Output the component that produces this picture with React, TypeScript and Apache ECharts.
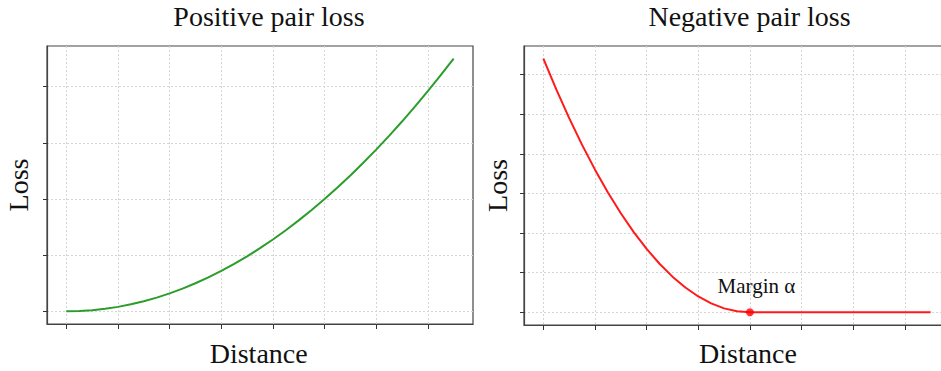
import React, { useEffect, useRef } from "react";
import * as echarts from "echarts";

const distance = [
  0, 0.05, 0.1, 0.15, 0.2, 0.25, 0.3, 0.35, 0.4, 0.45, 0.5, 0.55, 0.6, 0.65, 0.7, 0.75,
  0.8, 0.85, 0.9, 0.95, 1.0, 1.05, 1.1, 1.15, 1.2, 1.25, 1.3, 1.35, 1.4, 1.45, 1.5,
];
const positiveLoss = [
  0, 0.0025, 0.01, 0.0225, 0.04, 0.0625, 0.09, 0.1225, 0.16, 0.2025, 0.25, 0.3025, 0.36,
  0.4225, 0.49, 0.5625, 0.64, 0.7225, 0.81, 0.9025, 1.0, 1.1025, 1.21, 1.3225, 1.44,
  1.5625, 1.69, 1.8225, 1.96, 2.1025, 2.25,
];
const negativeLoss = [
  0.64, 0.5625, 0.49, 0.4225, 0.36, 0.3025, 0.25, 0.2025, 0.16, 0.1225, 0.09, 0.0625,
  0.04, 0.0225, 0.01, 0.0025, 0, 0, 0, 0, 0, 0, 0, 0, 0, 0, 0, 0, 0, 0, 0,
];
const marginPoint = [0.8, 0];
const marginLabel = "Margin α";
const xTicks = [0, 0.2, 0.4, 0.6, 0.8, 1.0, 1.2, 1.4];
const posYTicks = [0, 0.5, 1, 1.5, 2];
const negYTicks = [0, 0.1, 0.2, 0.3, 0.4, 0.5, 0.6];
const titles = ["Positive pair loss", "Negative pair loss"];
const xLabel = "Distance";
const yLabel = "Loss";

const FONT = "Liberation Serif";
const GRID_COLOR = "#d6d6d6";
const FRAME_COLOR = "#444";

function xAxis(gridIndex: number) {
  return {
    type: "value",
    gridIndex,
    min: -0.075,
    max: 1.575,
    axisLine: { show: true, onZero: false, lineStyle: { color: FRAME_COLOR, width: 1.2 } },
    axisTick: { show: true, length: 5, customValues: xTicks, lineStyle: { color: "#333", width: 1 } },
    axisLabel: { show: false },
    splitLine: { show: true, lineStyle: { color: GRID_COLOR, type: [2, 2], width: 1 } },
  };
}

function yAxis(gridIndex: number, min: number, max: number, ticks: number[]) {
  return {
    type: "value",
    gridIndex,
    min,
    max,
    axisLine: { show: true, onZero: false, lineStyle: { color: FRAME_COLOR, width: 1.2 } },
    axisTick: { show: true, length: 4, customValues: ticks, lineStyle: { color: "#333", width: 1 } },
    axisLabel: { show: false },
    splitLine: { show: true, lineStyle: { color: GRID_COLOR, type: [2, 2], width: 1 } },
  };
}

function zip(xs: number[], ys: number[]) {
  return xs.map((x, i) => [x, ys[i]]);
}

export default function App() {
  const ref = useRef<HTMLDivElement>(null);
  useEffect(() => {
    document.body.style.margin = "0";
    if (!ref.current) return;
    const chart = echarts.init(ref.current, undefined, { renderer: "svg" });
    const textStyle = (size: number) => ({
      font: `${size}px "${FONT}", serif`,
      fill: "#111",
      align: "center",
      verticalAlign: "middle",
    });
    const staticTexts = [
      { type: "text", x: 269, y: 16.3, style: { text: titles[0], ...textStyle(28) } },
      { type: "text", x: 749.5, y: 16.3, style: { text: titles[1], ...textStyle(28) } },
      { type: "text", x: 258.7, y: 353.5, style: { text: xLabel, ...textStyle(28) } },
      { type: "text", x: 748, y: 353.5, style: { text: xLabel, ...textStyle(28) } },
      { type: "text", x: 18.8, y: 185, rotation: Math.PI / 2, style: { text: yLabel, ...textStyle(28) } },
      { type: "text", x: 497.5, y: 185.5, rotation: Math.PI / 2, style: { text: yLabel, ...textStyle(28) } },
    ];
    chart.setOption({
      animation: false,
      backgroundColor: "#fff",
      textStyle: { fontFamily: FONT },
      grid: [
        { left: 47, top: 46, width: 426, height: 278, show: true, borderColor: FRAME_COLOR, borderWidth: 1.2 },
        { left: 524, top: 46, width: 426, height: 279, show: true, borderColor: FRAME_COLOR, borderWidth: 1.2 },
      ],
      xAxis: [xAxis(0), xAxis(1)],
      yAxis: [
        yAxis(0, -0.1125, 2.3625, posYTicks),
        yAxis(1, -0.032, 0.672, negYTicks),
      ],
      series: [
        {
          type: "line",
          xAxisIndex: 0,
          yAxisIndex: 0,
          data: zip(distance, positiveLoss),
          smooth: false,
          showSymbol: false,
          lineStyle: { color: "#2a9d2a", width: 2 },
          z: 3,
        },
        {
          type: "line",
          xAxisIndex: 1,
          yAxisIndex: 1,
          data: zip(distance, negativeLoss),
          smooth: false,
          showSymbol: false,
          lineStyle: { color: "#ff1a1a", width: 2 },
          z: 3,
        },
        {
          type: "scatter",
          xAxisIndex: 1,
          yAxisIndex: 1,
          data: [marginPoint],
          symbolSize: 8,
          itemStyle: { color: "#ff0000" },
          z: 4,
          emphasis: { disabled: true },
        },
      ],
      graphic: staticTexts,
    });
    const p = chart.convertToPixel({ gridIndex: 1 }, marginPoint) as number[];
    chart.setOption({
      graphic: [
        ...staticTexts,
        {
          type: "text",
          x: p[0] + 6.5,
          y: p[1] - 26.3,
          z: 10,
          style: { text: marginLabel, ...textStyle(21) },
        },
      ],
    });
    return () => chart.dispose();
  }, []);
  return (
    <div style={{ width: 941, height: 371, overflow: "hidden", background: "#fff" }}>
      <div ref={ref} style={{ width: 960, height: 371 }} />
    </div>
  );
}
